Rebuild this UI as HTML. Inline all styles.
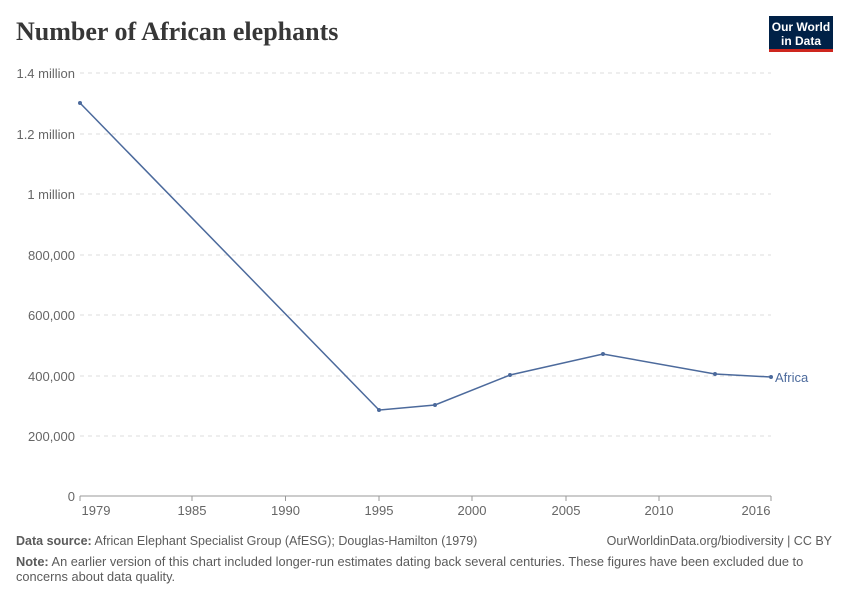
<!DOCTYPE html>
<html><head><meta charset="utf-8"><style>
body{margin:0;background:#fff;width:850px;height:600px;overflow:hidden;font-family:"Liberation Sans",sans-serif;}
</style></head><body>
<svg width="850" height="600" xmlns="http://www.w3.org/2000/svg" font-family="Liberation Sans, sans-serif">
<text x="16" y="40" font-family="Liberation Serif, serif" font-size="26" font-weight="bold" fill="#373737">Number of African elephants</text>
<rect x="769" y="16" width="64" height="33" fill="#002147"/>
<rect x="769" y="49" width="64" height="3" fill="#ce261e"/>
<text x="801" y="31" font-size="12" font-weight="bold" fill="#fff" text-anchor="middle">Our World</text>
<text x="801" y="45" font-size="12" font-weight="bold" fill="#fff" text-anchor="middle">in Data</text>
<g stroke="#ddd" stroke-dasharray="4,4" stroke-width="1">
<line x1="80" x2="771" y1="73" y2="73"/><line x1="80" x2="771" y1="134" y2="134"/>
<line x1="80" x2="771" y1="194" y2="194"/><line x1="80" x2="771" y1="255" y2="255"/>
<line x1="80" x2="771" y1="315" y2="315"/><line x1="80" x2="771" y1="376" y2="376"/>
<line x1="80" x2="771" y1="436" y2="436"/>
</g>
<line x1="80" x2="771" y1="496" y2="496" stroke="#999"/>
<g font-size="13" fill="#666" text-anchor="end">
<text x="75" y="78">1.4 million</text><text x="75" y="139">1.2 million</text>
<text x="75" y="199">1 million</text><text x="75" y="260">800,000</text>
<text x="75" y="320">600,000</text><text x="75" y="381">400,000</text>
<text x="75" y="441">200,000</text><text x="75" y="501">0</text>
</g>
<g stroke="#999"><line x1="80" x2="80" y1="496" y2="501"/><line x1="192" x2="192" y1="496" y2="501"/><line x1="285.5" x2="285.5" y1="496" y2="501"/><line x1="379" x2="379" y1="496" y2="501"/><line x1="472" x2="472" y1="496" y2="501"/><line x1="566" x2="566" y1="496" y2="501"/><line x1="659" x2="659" y1="496" y2="501"/><line x1="771" x2="771" y1="496" y2="501"/></g>
<g font-size="13" fill="#666" text-anchor="middle">
<text x="96" y="515">1979</text><text x="192" y="515">1985</text><text x="285.5" y="515">1990</text>
<text x="379" y="515">1995</text><text x="472" y="515">2000</text><text x="566" y="515">2005</text>
<text x="659" y="515">2010</text><text x="756" y="515">2016</text>
</g>
<polyline fill="none" stroke="#4c6a9c" stroke-width="1.5" points="80,103 379,410 435,405 510,375 603,354 715,374 771,377"/>
<g fill="#4c6a9c"><circle cx="80" cy="103" r="2"/><circle cx="379" cy="410" r="2"/><circle cx="435" cy="405" r="2"/><circle cx="510" cy="375" r="2"/><circle cx="603" cy="354" r="2"/><circle cx="715" cy="374" r="2"/><circle cx="771" cy="377" r="2"/></g>
<text x="775" y="382" font-size="13" fill="#4c6a9c">Africa</text>
<text x="16" y="545" font-size="12.5" fill="#5b5b5b"><tspan font-weight="bold">Data source:</tspan> African Elephant Specialist Group (AfESG); Douglas-Hamilton (1979)</text>
<text x="832" y="545" font-size="12.5" fill="#5b5b5b" text-anchor="end">OurWorldinData.org/biodiversity | CC BY</text>
<text x="16" y="566" font-size="12.8" fill="#5b5b5b"><tspan font-weight="bold">Note:</tspan> An earlier version of this chart included longer-run estimates dating back several centuries. These figures have been excluded due to</text>
<text x="16" y="581" font-size="12.8" fill="#5b5b5b">concerns about data quality.</text>
</svg>
</body></html>
